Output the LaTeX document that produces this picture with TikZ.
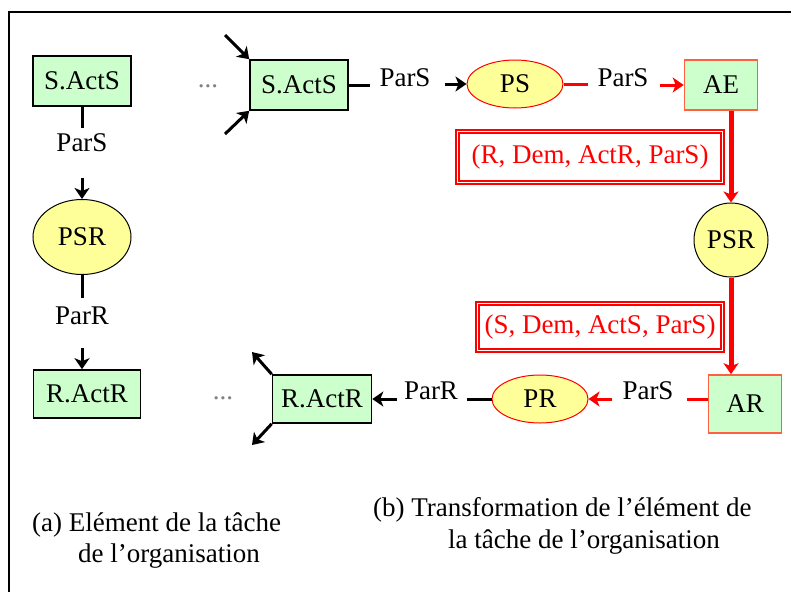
\documentclass[tikz,border=0pt]{standalone}
\usepackage{fontspec}
\setmainfont{Liberation Serif}
\usepackage{pgf,tikz}
\usetikzlibrary{shapes, arrows.meta, positioning}
\definecolor{vertpale}{RGB}{204,255,204}
\definecolor{jaune}{RGB}{255,255,153}
\definecolor{orangerouge}{RGB}{255,96,64}
\tikzstyle{activite} = [draw, fill=vertpale, rectangle, line width=1.6pt, minimum width=98pt, minimum height=50pt, inner sep=0pt]
\tikzstyle{agent} = [activite, draw=orangerouge, minimum width=73pt]
\tikzstyle{processus} = [draw, fill=jaune, ellipse, line width=1pt, minimum width=96pt, minimum height=48pt, inner sep=0pt]
\tikzstyle{param} = [inner sep=0pt]
\tikzstyle{message} = [draw=red, line width=1.8pt, double, double distance=1pt, text=red, inner sep=0pt]
\tikzstyle{trait} = [line width=3pt]
\tikzstyle{fleche} = [trait, -{Stealth[length=11pt, width=15pt, inset=3pt]}]

\begin{document}
\begin{tikzpicture}[x=1pt, y=-1pt, font=\fontsize{27}{32}\selectfont]
	\useasboundingbox (0,0) rectangle (791,592);
	\draw[line width=1.8pt] (9,592) -- (9,12) -- (791,12);

	\node[activite] (sacts1) at (82,81) {S.ActS};
	\node[param] (pars1) at (82,143) {ParS};
	\node[processus, draw=black, minimum width=98pt, minimum height=75pt] (psr1) at (82,237) {PSR};
	\node[param] (parr1) at (82,316) {ParR};
	\node[activite, minimum width=107pt, minimum height=48pt] (ractr1) at (87,394) {R.ActR};
	\draw[trait, shorten >=6pt] (sacts1.south) -- (pars1.north);
	\draw[fleche, shorten <=26pt] (pars1.south) -- (psr1.north);
	\draw[trait, shorten >=9pt] (psr1.south) -- (parr1.north);
	\draw[fleche, shorten <=23pt] (parr1.south) -- (parr1.south |- ractr1.north);

	\node[text=gray] (p1) at (208,86) {...};
	\node[text=gray] (p2) at (223,398) {...};

	\node[activite] (sacts2) at (299,85) {S.ActS};
	\node[param] (pars2) at (405,78) {ParS};
	\node[processus, draw=red] (ps) at (515,84) {PS};
	\node[param] (pars3) at (623,78) {ParS};
	\node[agent] (ae) at (721,85) {AE};
	\node[message, minimum width=265pt, minimum height=51pt] (dem1) at (590,157) {(R, Dem, ActR, ParS)};
	\node[processus, circle, draw=black, minimum size=74pt] (psr2) at (731,240) {PSR};
	\node[message, minimum width=245pt, minimum height=47pt] (dem2) at (600,327) {(S, Dem, ActS, ParS)};
	\node[agent, minimum height=58pt] (ar) at (745,404) {AR};
	\node[param] (pars4) at (648,391) {ParS};
	\node[processus, draw=red] (pr) at (540,399) {PR};
	\node[param] (parr2) at (431,391) {ParR};
	\node[activite, minimum width=99pt, minimum height=48pt] (ractr2) at (322,399) {R.ActR};

	\coordinate (e1) at (225,35);
	\coordinate (e2) at (225,134);
	\coordinate (s1) at (252,352);
	\coordinate (s2) at (252,445);
	\draw[fleche] (e1) -- (sacts2.north west);
	\draw[fleche] (e2) -- (sacts2.south west);
	\draw[fleche] (ractr2.north west) -- (s1);
	\draw[fleche] (ractr2.south west) -- (s2);

	\draw[trait, shorten >=9pt] (sacts2.east) -- (sacts2.east -| pars2.west);
	\draw[fleche, shorten <=14pt] (pars2.east |- ps.west) -- (ps.west);
	\draw[trait, red, shorten >=9pt] (ps.east) -- (ps.east -| pars3.west);
	\draw[fleche, red, shorten <=11pt] (pars3.east |- ae.west) -- (ae.west);
	\draw[fleche, red, line width=5pt] (ae.south -| psr2.north) -- (psr2.north);
	\draw[fleche, red, line width=5pt] (psr2.south) -- (psr2.south |- ar.north);
	\draw[trait, red, shorten >=13pt] (ar.west |- pr.east) -- (pars4.east |- pr.east);
	\draw[fleche, red, shorten <=10pt] (pars4.west |- pr.east) -- (pr.east);
	\draw[trait, shorten >=9pt] (pr.west) -- (pr.west -| parr2.east);
	\draw[fleche, shorten <=7pt] (parr2.west |- ractr2.east) -- (ractr2.east);

	\node[anchor=north west, inner sep=0pt, align=left] (lega) at (32,512) {(a) Elément de la tâche\\\hspace*{46pt}de l’organisation};
	\node[anchor=north west, inner sep=0pt, align=left] (legb) at (373,497) {(b) Transformation de l’élément de\\\hspace*{75pt}la tâche de l’organisation};
\end{tikzpicture}
\end{document}
